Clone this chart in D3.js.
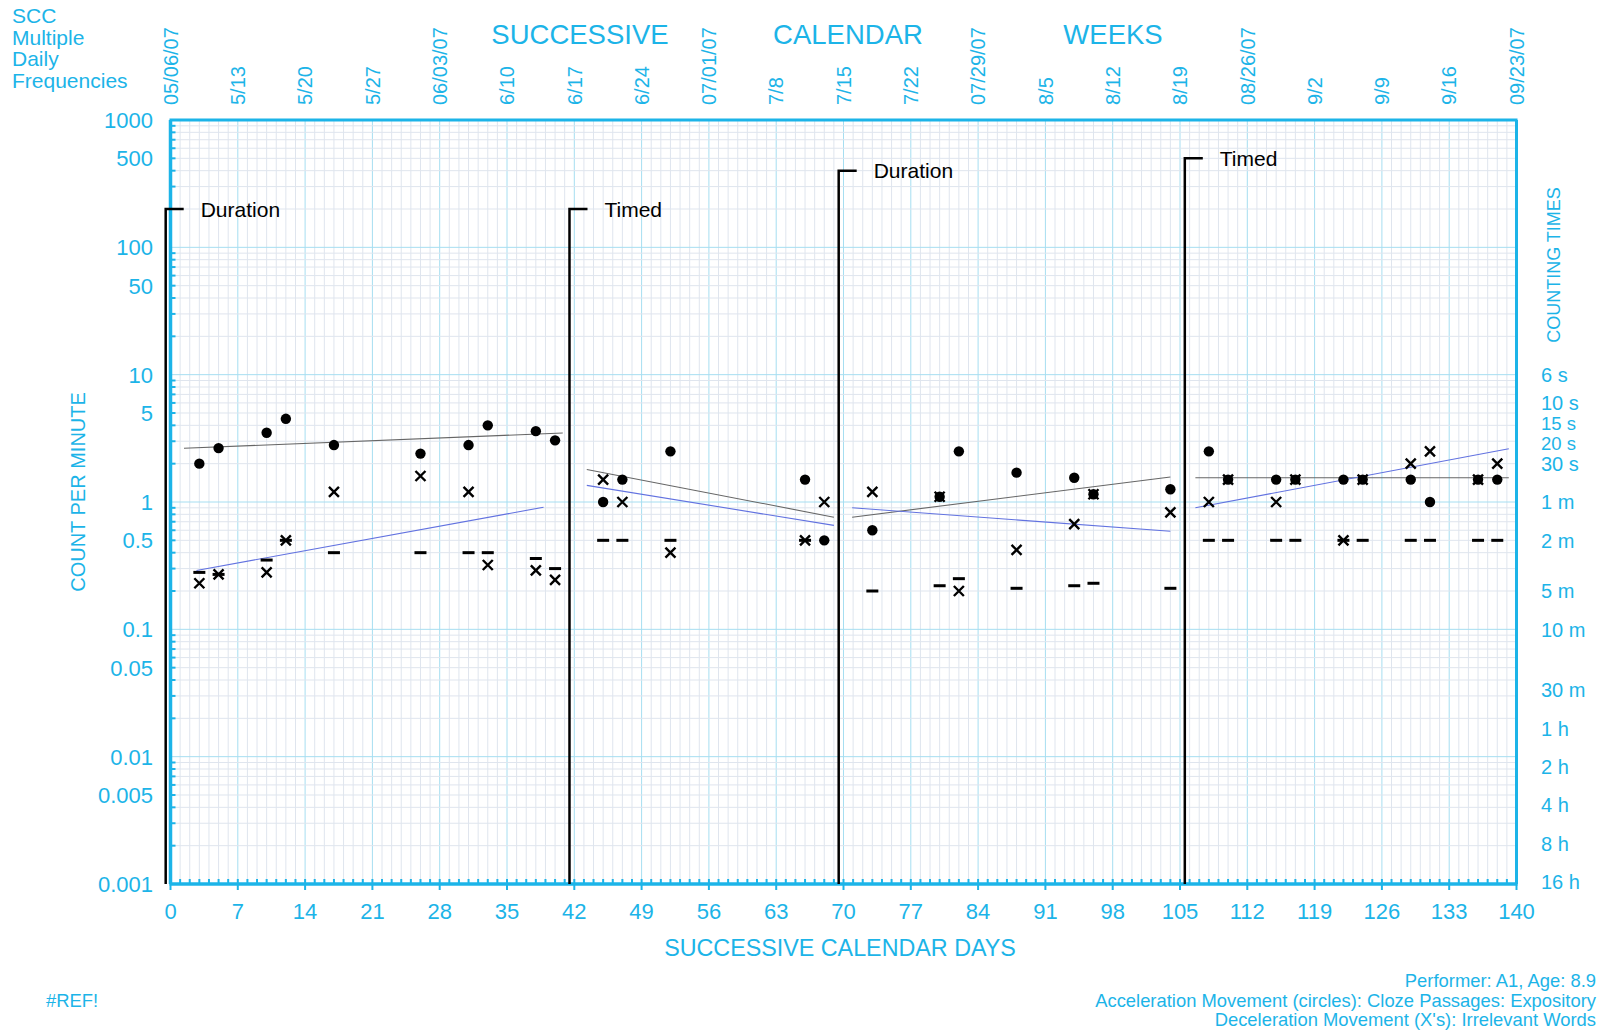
<!DOCTYPE html>
<html><head><meta charset="utf-8">
<script src="https://cdn.jsdelivr.net/npm/d3@7"></script>
<style>html,body{margin:0;padding:0;background:#fff;}svg{display:block;font-family:"Liberation Sans",Arial,sans-serif;}</style>
</head><body>
<svg id="c" width="1598" height="1032"></svg>
<script>
// ---------- data ----------
const accelDays = [3,5,10,12,17,26,31,33,38,40, 45,47,52,66,68, 73,80,82,88,94,96,104, 108,110,115,117,122,124,129,131,136,138];
const accelVals = [2.0,2.65,3.5,4.5,2.8,2.4,2.8,4.0,3.6,3.05, 1.0,1.5,2.5,1.5,0.5, 0.6,1.1,2.5,1.7,1.55,1.15,1.26, 2.5,1.5,1.5,1.5,1.5,1.5,1.5,1.0,1.5,1.5];
const decelDays = [3,5,10,12,17,26,31,33,38,40, 45,47,52,66,68, 73,80,82,88,94,96,104, 108,110,115,117,122,124,129,131,136,138];
const decelVals = [0.23,0.27,0.28,0.5,1.2,1.6,1.2,0.32,0.29,0.245, 1.5,1.0,0.4,0.5,1.0, 1.2,1.1,0.2,0.42,0.67,1.15,0.83, 1.0,1.5,1.0,1.5,0.5,1.5,2.0,2.5,1.5,2.0];
const floorDays = [3,5,10,12,17,26,31,33,38,40, 45,47,52,66, 73,80,82,88,94,96,104, 108,110,115,117,122,124,129,131,136,138];
const floorVals = [0.28,0.27,0.35,0.5,0.4,0.4,0.4,0.4,0.36,0.30, 0.5,0.5,0.5,0.5, 0.2,0.22,0.25,0.21,0.22,0.23,0.21, 0.5,0.5,0.5,0.5,0.5,0.5,0.5,0.5,0.5,0.5];

const trendStartDays = [1.4, 43.3, 70.9, 106.6];
const trendEndDays   = [40.8, 69.0, 104.0, 139.2];
const accelTrendStart = [2.64, 1.8, 0.76, 1.55];
const accelTrendEnd   = [3.48, 0.76, 1.57, 1.55];
const decelTrendStartDays = [2.7, 43.3, 70.9, 106.6];
const decelTrendEndDays   = [38.8, 69.0, 104.0, 139.2];
const decelTrendStart = [0.29, 1.35, 0.90, 0.90];
const decelTrendEnd   = [0.91, 0.655, 0.59, 2.62];

const phaseDays = [-0.5, 41.5, 69.5, 105.5];
const phaseLabels = ["Duration", "Timed", "Duration", "Timed"];
const phaseTops = [200, 200, 400, 500];

const dayTicks = d3.range(0, 141, 7);
const weekDates = ["05/06/07","5/13","5/20","5/27","06/03/07","6/10","6/17","6/24","07/01/07","7/8","7/15","7/22","07/29/07","8/5","8/12","8/19","08/26/07","9/2","9/9","9/16","09/23/07"];
const yTickVals = [1000,500,100,50,10,5,1,0.5,0.1,0.05,0.01,0.005,0.001];
const yTickLabels = ["1000","500","100","50","10","5","1","0.5","0.1","0.05","0.01","0.005","0.001"];
const countLabels = ["6 s","10 s","15 s","20 s","30 s","1 m","2 m","5 m","10 m","30 m","1 h","2 h","4 h","8 h","16 h"];
const countVals = [10,6,4,3,2,1,0.5,0.2,0.1,1/30,1/60,1/120,1/240,1/480,1/960];

// ---------- drawing ----------
const CY = "#1cb4e8";
const svg = d3.select("#c");
const x = d3.scaleLinear().domain([0,140]).range([170.5,1516.5]);
const y = d3.scaleLog().domain([0.001,1000]).range([884,120]);

const grid = svg.append("g");
grid.selectAll("line.d").data(d3.range(1,140)).join("line")
  .attr("x1", d=>x(d)).attr("x2", d=>x(d)).attr("y1", y(1000)).attr("y2", y(0.001))
  .attr("stroke", d => d%7===0 ? "#a6def1" : "#dfe5ee").attr("stroke-width", 1);
const hv = [];
for (let k=-3;k<=2;k++) for (let m=1;m<=9;m++) hv.push({v:m*Math.pow(10,k), dec:m===1});
grid.selectAll("line.h").data(hv.filter(d=>d.v>0.001)).join("line")
  .attr("x1", x(0)).attr("x2", x(140)).attr("y1", d=>y(d.v)).attr("y2", d=>y(d.v))
  .attr("stroke", d=>d.dec ? "#a6def1" : "#dfe5ee").attr("stroke-width", 1);

svg.append("g").selectAll("line").data(hv).join("line")
  .attr("x1", x(0)).attr("x2", d=> x(0) + (d.dec?0:5)).attr("y1", d=>y(d.v)).attr("y2", d=>y(d.v))
  .attr("stroke", CY).attr("stroke-width", 2);
svg.append("g").selectAll("line").data(d3.range(0,141)).join("line")
  .attr("x1", d=>x(d)).attr("x2", d=>x(d)).attr("y1", d=> d%7===0 ? y(0.001)+6 : y(0.001)).attr("y2", y(0.001)-5)
  .attr("stroke", CY).attr("stroke-width", 2);

svg.append("line").attr("x1", x(0)-1).attr("x2", x(140)+1).attr("y1", y(1000)).attr("y2", y(1000)).attr("stroke", CY).attr("stroke-width", 3);
svg.append("line").attr("x1", x(0)-1).attr("x2", x(140)+1).attr("y1", y(0.001)).attr("y2", y(0.001)).attr("stroke", CY).attr("stroke-width", 3.5);
svg.append("line").attr("x1", x(0)).attr("x2", x(0)).attr("y1", y(1000)).attr("y2", y(0.001)).attr("stroke", CY).attr("stroke-width", 3.5);
svg.append("line").attr("x1", x(140)).attr("x2", x(140)).attr("y1", y(1000)).attr("y2", y(0.001)).attr("stroke", CY).attr("stroke-width", 3);

svg.append("g").selectAll("text").data(yTickVals).join("text")
  .attr("x", 153).attr("y", d=>y(d)).attr("dy","0.36em").attr("text-anchor","end")
  .attr("font-size", 22).attr("fill", CY).text((d,i)=>yTickLabels[i]);
svg.append("g").selectAll("text").data(dayTicks).join("text")
  .attr("x", d=>x(d)).attr("y", 919).attr("text-anchor","middle")
  .attr("font-size", 22).attr("fill", CY).text(d=>d);
svg.append("g").selectAll("text").data(dayTicks).join("text")
  .attr("transform", d=>`translate(${x(d)},105) rotate(-90)`).attr("dy","0.36em")
  .attr("text-anchor","start").attr("font-size", 20).attr("fill", CY).text((d,i)=>weekDates[i]);
const nudge = {"15 s": -2, "20 s": 2};
svg.append("g").selectAll("text").data(countVals).join("text")
  .attr("x", 1541).attr("y", (d,i)=>y(d) + (nudge[countLabels[i]]||0)).attr("dy","0.36em")
  .attr("font-size", (d,i)=> (nudge[countLabels[i]] ? 18.5 : 20)).attr("fill", CY).text((d,i)=>countLabels[i]);

const T = (t, xx, yy, fs, anchor, col) => svg.append("text").attr("x",xx).attr("y",yy).attr("font-size",fs)
  .attr("text-anchor",anchor||"start").attr("fill",col||CY).text(t);
T("SUCCESSIVE", 580, 44, 27.5, "middle");
T("CALENDAR", 848, 44, 27.5, "middle");
T("WEEKS", 1113, 44, 27.5, "middle");
["SCC","Multiple","Daily","Frequencies"].forEach((t,i)=>T(t, 12, 23+i*21.6, 21));
T("SUCCESSIVE CALENDAR DAYS", 840, 956, 23.3, "middle");
svg.append("text").attr("transform","translate(85,492) rotate(-90)").attr("text-anchor","middle")
  .attr("font-size",20).attr("fill",CY).text("COUNT PER MINUTE");
svg.append("text").attr("transform","translate(1560,265) rotate(-90)").attr("text-anchor","middle")
  .attr("font-size",18).attr("fill",CY).text("COUNTING TIMES");
T("Performer: A1, Age: 8.9", 1596, 987, 18.4, "end");
T("Acceleration Movement (circles): Cloze Passages: Expository", 1596, 1007, 18.4, "end");
T("Deceleration Movement (X's): Irrelevant Words", 1596, 1026, 18.4, "end");
T("#REF!", 46, 1007, 18.4, "start");

const ph = svg.append("g");
phaseDays.forEach((d,i)=>{
  ph.append("path").attr("d", `M${x(d)},${y(0.001)} V${y(phaseTops[i])} H${x(d)+18}`)
    .attr("fill","none").attr("stroke","#000").attr("stroke-width",2.5);
  ph.append("text").attr("x", x(d)+35).attr("y", y(phaseTops[i])).attr("dy","0.36em")
    .attr("font-size",21).attr("fill","#000").text(phaseLabels[i]);
});

const cl = svg.append("g");
trendStartDays.forEach((d,i)=>{
  cl.append("line").attr("x1", x(d)).attr("y1", y(accelTrendStart[i])).attr("x2", x(trendEndDays[i])).attr("y2", y(accelTrendEnd[i]))
    .attr("stroke","#666").attr("stroke-width",1.1);
  cl.append("line").attr("x1", x(decelTrendStartDays[i])).attr("y1", y(decelTrendStart[i])).attr("x2", x(decelTrendEndDays[i])).attr("y2", y(decelTrendEnd[i]))
    .attr("stroke","#6272e0").attr("stroke-width",1.1);
});

svg.append("g").selectAll("line").data(floorDays).join("line")
  .attr("x1", d=>x(d)-6).attr("x2", d=>x(d)+6).attr("y1",(d,i)=>y(floorVals[i])).attr("y2",(d,i)=>y(floorVals[i]))
  .attr("stroke","#000").attr("stroke-width",3);
svg.append("g").selectAll("circle").data(accelDays).join("circle")
  .attr("cx", d=>x(d)).attr("cy",(d,i)=>y(accelVals[i])).attr("r",5.2).attr("fill","#000");
svg.append("g").selectAll("path").data(decelDays).join("path")
  .attr("d",(d,i)=>{const cx=x(d), cy=y(decelVals[i]), s=5; return `M${cx-s},${cy-s}L${cx+s},${cy+s}M${cx-s},${cy+s}L${cx+s},${cy-s}`;})
  .attr("stroke","#000").attr("stroke-width",2.4).attr("fill","none");
</script>
</body></html>
